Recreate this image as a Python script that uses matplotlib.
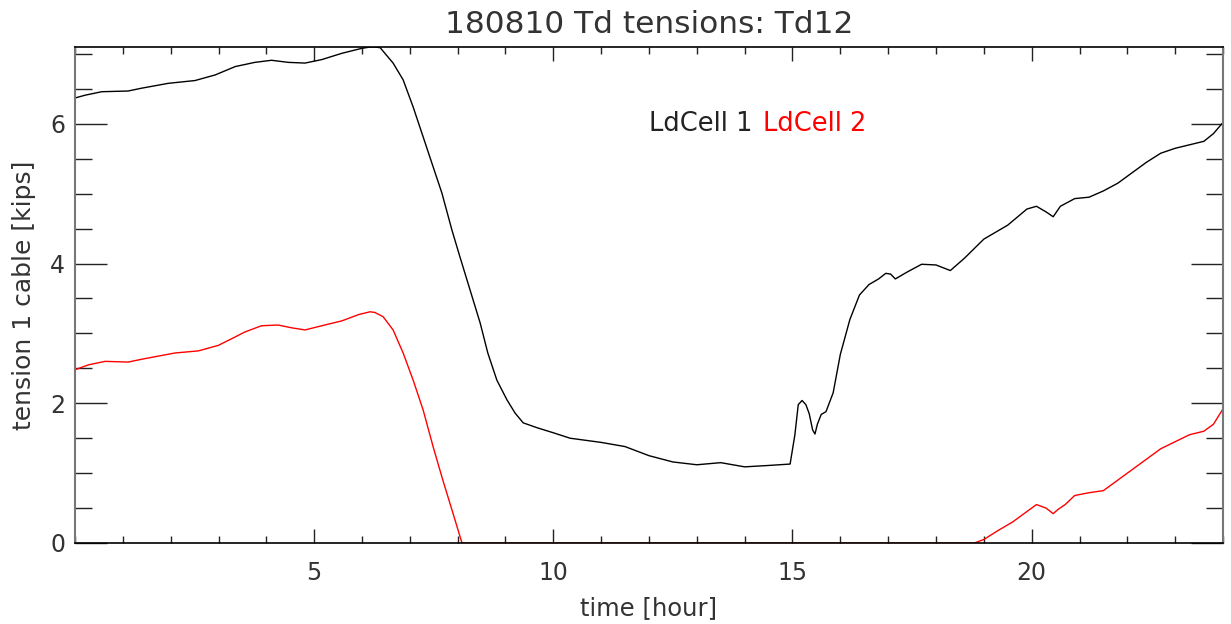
import matplotlib
matplotlib.use("Agg")
import matplotlib.pyplot as plt
from matplotlib.ticker import MultipleLocator, FixedLocator

# Data (hours, kips)
hours_1 = [0.0, 0.21, 0.56, 1.11, 1.39, 1.95, 2.51, 2.93, 3.35, 3.76, 4.11, 4.46, 4.81, 5.16, 5.58,
           5.99, 6.17, 6.27, 6.38, 6.65, 6.86, 7.07, 7.28, 7.46, 7.67, 7.88, 8.05, 8.26, 8.47, 8.63,
           8.82, 9.03, 9.20, 9.37, 9.66, 9.99, 10.35, 11.0, 11.5, 12.0, 12.5, 13.0, 13.5, 14.0,
           14.5, 14.95, 15.05, 15.12, 15.2, 15.28, 15.35, 15.42, 15.47, 15.52, 15.6, 15.7, 15.85,
           16.0, 16.2, 16.4, 16.6, 16.8, 16.95, 17.05, 17.15, 17.4, 17.7, 18.0, 18.3, 18.6, 19.0,
           19.5, 19.9, 20.1, 20.3, 20.45, 20.6, 20.9, 21.2, 21.5, 21.8, 22.1, 22.4, 22.7, 23.0,
           23.3, 23.6, 23.8, 24.0]
cell_1 = [6.37, 6.41, 6.46, 6.47, 6.51, 6.58, 6.62, 6.70, 6.82, 6.88, 6.91, 6.88, 6.87, 6.92, 7.01,
          7.08, 7.10, 7.10, 7.09, 6.87, 6.63, 6.24, 5.81, 5.44, 5.01, 4.48, 4.09, 3.62, 3.15, 2.72,
          2.33, 2.05, 1.86, 1.72, 1.65, 1.58, 1.50, 1.44, 1.38, 1.25, 1.16, 1.12, 1.15, 1.09,
          1.11, 1.13, 1.55, 1.98, 2.04, 1.98, 1.85, 1.62, 1.56, 1.70, 1.84, 1.88, 2.15,
          2.70, 3.20, 3.55, 3.70, 3.78, 3.86, 3.85, 3.78, 3.88, 3.99, 3.98, 3.90, 4.08, 4.35,
          4.55, 4.78, 4.82, 4.74, 4.67, 4.82, 4.93, 4.95, 5.04, 5.15, 5.30, 5.45, 5.58, 5.65,
          5.70, 5.75, 5.86, 6.02]

hours_2 = [0.0, 0.28, 0.63, 1.11, 1.39, 2.09, 2.58, 3.0, 3.35, 3.55, 3.90, 4.25, 4.53, 4.81, 5.16,
           5.58, 5.93, 6.17, 6.27, 6.44, 6.65, 6.86, 7.07, 7.28, 7.49, 7.69, 7.90, 8.09, 10.0,
           14.0, 18.0, 18.8, 19.0, 19.3, 19.6, 19.9, 20.1, 20.3, 20.45, 20.55, 20.7, 20.9, 21.2,
           21.5, 21.8, 22.1, 22.4, 22.7, 23.0, 23.3, 23.6, 23.8, 24.0]
cell_2 = [2.48, 2.55, 2.60, 2.59, 2.63, 2.72, 2.75, 2.83, 2.95, 3.02, 3.11, 3.12, 3.08, 3.05, 3.11,
          3.18, 3.27, 3.31, 3.30, 3.24, 3.05, 2.72, 2.33, 1.90, 1.37, 0.90, 0.43, 0.0, 0.0,
          0.0, 0.0, 0.0, 0.05, 0.18, 0.30, 0.45, 0.55, 0.50, 0.42, 0.48, 0.55, 0.68, 0.72,
          0.75, 0.90, 1.05, 1.20, 1.35, 1.45, 1.55, 1.60, 1.70, 1.92]

x_major = [5, 10, 15, 20]
y_major = [0, 2, 4, 6]
title = "180810 Td tensions: Td12"
legend_labels = ["LdCell 1", "LdCell 2"]

plt.rcParams['font.family'] = ['DejaVu Sans']
fig = plt.figure(figsize=(12.31, 6.24), dpi=100)
ax = fig.add_axes([75/1231, 1 - 543/624, (1223-75)/1231, (543-47)/624])

ax.plot(hours_1, cell_1, color='black', lw=1.0)
ax.plot(hours_2, cell_2, color='red', lw=1.0)

ax.set_xlim(0, 24)
ax.set_ylim(0, 7.1)

ax.xaxis.set_major_locator(FixedLocator(x_major))
ax.xaxis.set_minor_locator(MultipleLocator(1))
ax.yaxis.set_major_locator(FixedLocator(y_major))
ax.yaxis.set_minor_locator(MultipleLocator(0.5))
ax.tick_params(axis='x', which='major', direction='in', length=10, width=1, top=True,
               labelsize=17, pad=13, colors='#333333')
ax.tick_params(axis='x', which='minor', direction='in', length=5, width=1, top=True)
ax.tick_params(axis='y', which='major', direction='in', length=23, width=1, right=True,
               labelsize=17, pad=7, colors='#333333')
ax.tick_params(axis='y', which='minor', direction='in', length=12, width=1, right=True)
ax.tick_params(axis='both', which='both', color='#222222')
for s in ['left', 'right']:
    ax.spines[s].set_color('#777777')
    ax.spines[s].set_linewidth(1.5)
for s in ['top', 'bottom']:
    ax.spines[s].set_color('black')
    ax.spines[s].set_linewidth(1.2)

ax.set_title(title, fontsize=22.5, color='#333333', pad=10)
ax.set_xlabel("time [hour]", fontsize=17.5, color='#333333', labelpad=8)
ax.set_ylabel("tension 1 cable [kips]", fontsize=18, color='#333333', labelpad=10)

ax.text(752/47.83 - 75/47.83, 6.0, legend_labels[0], color='#222222', fontsize=18.5,
        ha='right', va='center')
ax.text(763/47.83 - 75/47.83, 6.0, legend_labels[1], color='red', fontsize=18.5,
        ha='left', va='center')

fig.savefig("out.png", dpi=100)
